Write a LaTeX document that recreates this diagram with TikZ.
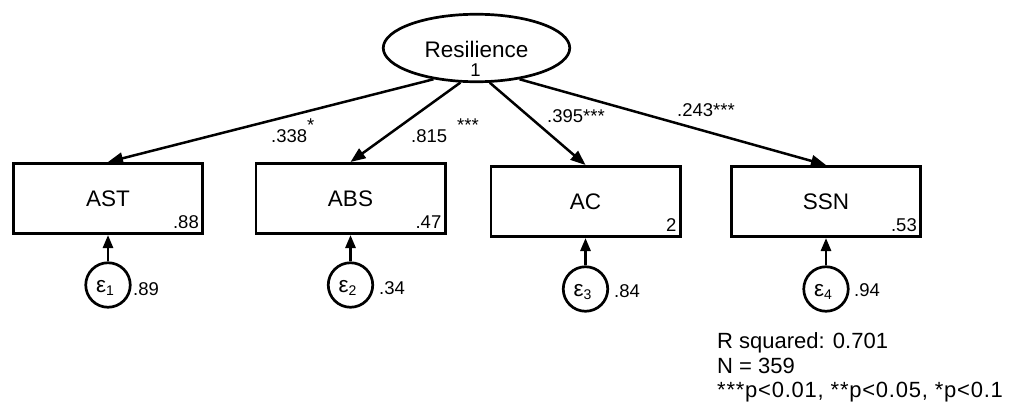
\documentclass[tikz,border=0pt]{standalone}
\usepackage{fontspec}
\setmainfont{Liberation Sans}
\usetikzlibrary{arrows.meta,shapes.geometric}
\newcommand{\errlab}[1]{ε\raisebox{-2.5pt}{\fontsize{14}{14}\selectfont #1}}
\newcommand{\upstar}[1]{\raisebox{10pt}{#1}}
\tikzset{
  big/.style={font=\fontsize{22.5}{26}\selectfont},
  small/.style={font=\fontsize{18.5}{20}\selectfont},
  foot/.style={font=\fontsize{22}{26}\selectfont},
  obsbox/.style={draw, line width=2.7pt, minimum width=189.3pt, minimum height=70.3pt, inner sep=0pt, big},
  latent/.style={draw, ellipse, line width=2.7pt, minimum width=186.5pt, minimum height=67.5pt, inner sep=0pt},
  errc/.style={draw, circle, line width=2.7pt, minimum size=44.5pt, inner sep=0pt},
  loadarrow/.style={line width=2.5pt, -{Triangle[length=15pt,width=11.5pt]}},
  stemarrow/.style={line width=2.7pt, -{Triangle[length=13pt,width=10pt]}},
  lbl/.style={inner sep=0pt},
}
\begin{document}
\begin{tikzpicture}[x=1pt,y=-1pt]
\useasboundingbox (0,0) rectangle (1010,412);
% latent variable
\node[latent] (R) at (476.5,48) {};
\node[lbl, big, anchor=base] (Rt) at (476.5,58) {Resilience};
\node[lbl, small, anchor=base] (Rv) at (475.5,77) {1};
% observed boxes
\node[obsbox] (AST) at (108,198.5) {AST};
\node[obsbox] (ABS) at (350.5,198.5) {ABS};
\node[obsbox] (AC) at (585.5,201.5) {AC};
\node[obsbox] (SSN) at (826,201.5) {SSN};
\node[lbl, small, anchor=base east] (ASTv) at ([shift={(-5,-7)}]AST.south east) {.88};
\node[lbl, small, anchor=base east] (ABSv) at ([shift={(-5,-7)}]ABS.south east) {.47};
\node[lbl, small, anchor=base east] (ACv) at ([shift={(-5,-7)}]AC.south east) {2};
\node[lbl, small, anchor=base east] (SSNv) at ([shift={(-5,-7)}]SSN.south east) {.53};
% error terms
\node[errc] (e1) at (108,285) {};
\node[errc] (e2) at (350.5,285) {};
\node[errc] (e3) at (585.5,289) {};
\node[errc] (e4) at (826,289) {};
\node[lbl, big] (e1t) at ([shift={(-3,3)}]e1) {\errlab{1}};
\node[lbl, big] (e2t) at ([shift={(-3,3)}]e2) {\errlab{2}};
\node[lbl, big] (e3t) at ([shift={(-3,3)}]e3) {\errlab{3}};
\node[lbl, big] (e4t) at ([shift={(-3,3)}]e4) {\errlab{4}};
\node[lbl, small, anchor=base west] (e1v) at (133,295) {.89};
\node[lbl, small, anchor=base west] (e2v) at (379,294) {.34};
\node[lbl, small, anchor=base west] (e3v) at (614,297) {.84};
\node[lbl, small, anchor=base west] (e4v) at (854,296) {.94};
\draw[stemarrow] (e1) -- (AST);
\draw[stemarrow] (e2) -- (ABS);
\draw[stemarrow] (e3) -- (AC);
\draw[stemarrow] (e4) -- (SSN);
% loadings
\draw[loadarrow] (R.216.5) -- (AST.north);
\draw[loadarrow] (R.245.3) -- (ABS.north);
\draw[loadarrow] (R.291.8) -- (AC.north);
\draw[loadarrow] (R.324) -- (SSN.north);
\node[lbl, small, anchor=base west] (l1) at (271,142) {.338\upstar{*}};
\node[lbl, small, anchor=base west] (l2) at (411,142) {.815\hspace{10pt}\upstar{***}};
\node[lbl, small, anchor=base west] (l3) at (547,122) {.395***};
\node[lbl, small, anchor=base west] (l4) at (677,117) {.243***};
% footer
\node[lbl, foot, anchor=base west] (f1) at (717,348) {R squared: 0.701};
\node[lbl, foot, anchor=base west] (f2) at (717,373) {N = 359};
\node[lbl, foot, anchor=base west] (f3) at (717,397) {\addfontfeature{LetterSpace=3.5}***p<0.01, **p<0.05, *p<0.1};
\end{tikzpicture}
\end{document}
